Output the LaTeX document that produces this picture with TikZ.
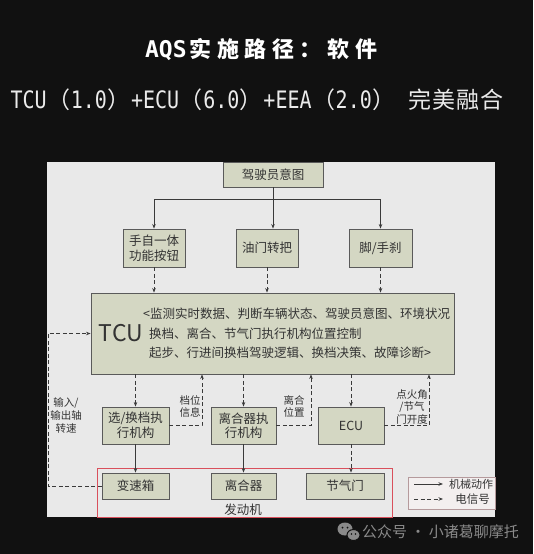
\documentclass[tikz,border=0pt]{standalone}
\usepackage{fontspec}
\setmainfont{Noto Sans CJK SC}
\newfontfamily\cjk{Noto Sans CJK SC}
\newfontfamily\monot{DejaVu Sans Mono}
\newfontfamily\monos[FakeStretch=0.833]{DejaVu Sans Mono}
\usetikzlibrary{arrows.meta}
\definecolor{bgdark}{HTML}{111111}
\definecolor{panel}{HTML}{E9E9E9}
\definecolor{boxfill}{HTML}{D4D7C3}
\definecolor{boxline}{HTML}{5A5A5A}
\definecolor{lineclr}{HTML}{3A3A3A}
\definecolor{txt}{HTML}{333333}
\definecolor{engred}{HTML}{D9505C}
\definecolor{legline}{HTML}{B59A9C}
\definecolor{legfill}{HTML}{F3EFEF}
\definecolor{wm}{HTML}{8A8A8A}
\newcommand\titlecell[1]{\makebox[27.6pt]{#1}}
\newcommand\fwcell[1]{{\cjk\fontsize{23}{23}\selectfont\makebox[24.1pt]{#1}}}
\tikzset{
  box/.style={draw=boxline, fill=boxfill, line width=0.9pt, inner sep=0pt, align=center,
    font=\fontsize{12.5}{14.5}\selectfont, text=txt},
  mech/.style={draw=lineclr, line width=0.8pt, -{Stealth[length=4.5pt,width=3.5pt]}},
  sig/.style={mech, dash pattern=on 4pt off 2.5pt},
  lbl/.style={font=\fontsize{10.5}{12.5}\selectfont, align=center, text=txt, inner sep=0pt},
  tline/.style={anchor=west, inner sep=0pt, font=\fontsize{12.5}{14}\selectfont, text=txt}
}
\begin{document}
\begin{tikzpicture}[x=1pt,y=-1pt]
\useasboundingbox (0,0) rectangle (533,554);
\fill[bgdark] (0,0) rectangle (533,554);
\fill[panel] (47,162) rectangle (495,517);

% titles
\node[text=white, inner sep=0pt] (title) at (262.5,49)
  {\monot\bfseries\fontsize{23}{23}\selectfont AQS\cjk\bfseries\fontsize{22}{22}\selectfont\titlecell{实}\titlecell{施}\titlecell{路}\titlecell{径}\titlecell{：}\titlecell{软}\titlecell{件}};
\node[text=white!92!black, inner sep=0pt] (subtitle) at (257.5,100)
  {\monos\fontsize{24}{24}\selectfont TCU\fwcell{（}1.0\fwcell{）}+ECU\fwcell{（}6.0\fwcell{）}+EEA\fwcell{（}2.0\fwcell{）} \fwcell{完}\fwcell{美}\fwcell{融}\fwcell{合}};

% top nodes
\node[box, minimum width=100pt, minimum height=25pt] (intent) at (273,174.5) {驾驶员意图};
\node[box, minimum width=62pt, minimum height=38pt] (btn) at (154,248) {手自一体\\功能按钮};
\node[box, minimum width=62pt, minimum height=38pt] (thr) at (267,248) {油门转把};
\node[box, minimum width=63pt, minimum height=38pt] (brake) at (380.5,248) {脚/手刹};

\coordinate (bus) at (273,199);
\draw[lineclr, line width=0.8pt] (intent.south) -- (bus);
\draw[mech] (bus) -| (btn.north);
\draw[mech] (bus) -| (brake.north);
\draw[mech] (bus) -- (bus |- thr.north);

% TCU
\node[box, minimum width=363pt, minimum height=81pt] (tcu) at (272.5,333.5) {};
\node[inner sep=0pt, text=txt, font=\fontsize{23}{23}\selectfont] (tcul) at (121,333.5) {TCU};
\node[tline] (t1) at (143,314) {<监测实时数据、判断车辆状态、驾驶员意图、环境状况};
\node[tline] (t2) at (149,334) {换档、离合、节气门执行机构位置控制};
\node[tline] (t3) at (149,353) {起步、行进间换档驾驶逻辑、换档决策、故障诊断>};

\draw[sig] (btn.south) -- (btn.south |- tcu.north);
\draw[sig] (thr.south) -- (thr.south |- tcu.north);
\draw[sig] (brake.south) -- (brake.south |- tcu.north);

% engine frame
\node[draw=engred, line width=0.9pt, minimum width=295pt, minimum height=49pt, inner sep=0pt] (engine) at (244.5,492.5) {};
\node[inner sep=0pt, text=txt, font=\fontsize{12.5}{14}\selectfont] (englbl) at (243,510) {发动机};

% bottom nodes
\node[box, minimum width=67pt, minimum height=37pt] (shift) at (135.5,425.5) {选/换档执\\行机构};
\node[box, minimum width=65pt, minimum height=37pt] (clact) at (243.5,425.5) {离合器执\\行机构};
\node[box, minimum width=66pt, minimum height=37pt] (ecu) at (351,425.5) {ECU};
\node[box, minimum width=67pt, minimum height=26pt] (gear) at (135.5,486) {变速箱};
\node[box, minimum width=65pt, minimum height=26pt] (clutch) at (243.5,486) {离合器};
\node[box, minimum width=78pt, minimum height=26pt] (thv) at (345,486) {节气门};

% TCU -> actuators
\draw[sig] (shift.north |- tcu.south) -- (shift.north);
\draw[sig] (clact.north |- tcu.south) -- (clact.north);
\draw[sig] (ecu.north |- tcu.south) -- (ecu.north);

% feedback
\coordinate (f1) at (202,425.5);
\coordinate (f2) at (311,425.5);
\coordinate (f3) at (429,425.5);
\draw[sig] (shift.east) -- (f1) -- (f1 |- tcu.south);
\draw[sig] (clact.east) -- (f2) -- (f2 |- tcu.south);
\draw[sig] (ecu.east) -- (f3) -- (f3 |- tcu.south);
\node[lbl] (l1) at (190,406.5) {档位\\信息};
\node[lbl] (l2) at (294,406.5) {离合\\位置};
\node[lbl] (l3) at (412,407) {点火角\\/节气\\门开度};

% actuator -> parts
\draw[mech] (shift.south) -- (gear.north);
\draw[mech] (clact.south) -- (clutch.north);
\draw[sig] (ecu.south) -- (ecu.south |- thv.north);

% left loop
\coordinate (lc) at (48,486);
\draw[sig] (gear.west) -- (lc) -- (lc |- tcu.west) -- (tcu.west);
\node[lbl, font=\fontsize{10.5}{13}\selectfont] (l4) at (66,415) {输入/\\输出轴\\转速};

% legend
\node[draw=legline, fill=legfill, line width=0.8pt, minimum width=87pt, minimum height=32pt, inner sep=0pt] (legend) at (451.5,493) {};
\coordinate (la1) at (414,484); \coordinate (lb1) at (443,484);
\coordinate (la2) at (414,499); \coordinate (lb2) at (443,499);
\draw[mech] (la1) -- (lb1);
\draw[sig] (la2) -- (lb2);
\node[tline, font=\fontsize{11}{12}\selectfont] (lt1) at (449,484) {机械动作};
\node[inner sep=0pt, text=txt, font=\fontsize{11.5}{12}\selectfont] (lt2) at (472.5,499) {电信号};

% watermark
\fill[wm] (345,529) ellipse (7.5pt and 6.5pt);
\filldraw[fill=wm, draw=bgdark, line width=1pt] (353.5,535) ellipse (6.5pt and 5.5pt);
\fill[bgdark] (342.5,527.5) circle (1pt) (347.5,527.5) circle (1pt) (351.5,534) circle (0.8pt) (355.5,534) circle (0.8pt);
\node[anchor=west, inner sep=0pt, text=wm, font=\fontsize{15}{16}\selectfont] (wmtext) at (362,532) {公众号 · 小诸葛聊摩托};
\end{tikzpicture}
\end{document}
